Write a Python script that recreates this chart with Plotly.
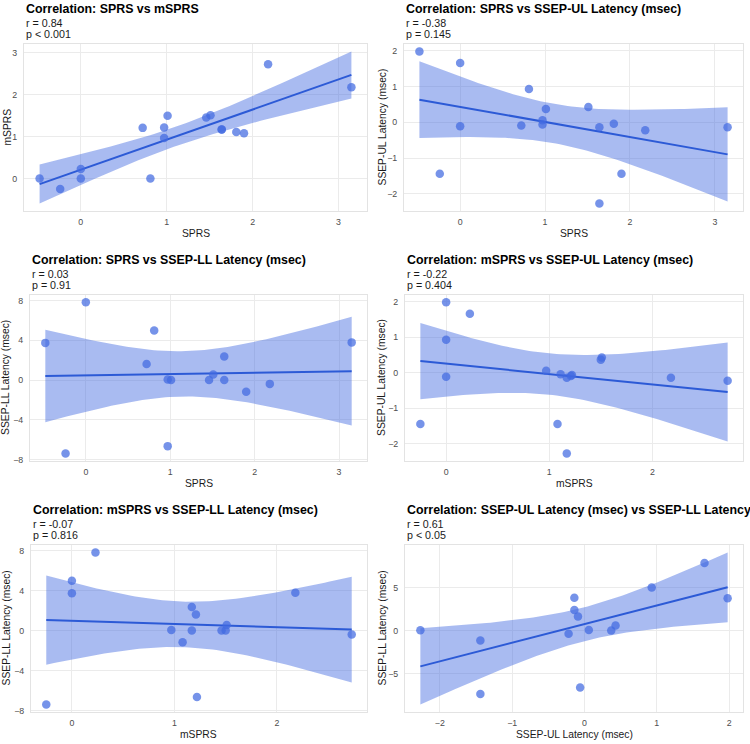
import math
import numpy as np
import plotly.graph_objects as go

# ---- data (one entry per patient; None = missing) ----
SPRS = [-0.48, -0.24, 0.0, 0.0, 0.72, 0.81, 0.97, 0.97, 1.01, 1.51, 1.46, 1.64, 1.64, 1.81, 1.90, 2.18, 3.15]
mSPRS = [0.0, -0.25, 0.23, 0.0, 1.21, 0.0, 0.97, 1.22, 1.50, 1.51, 1.46, 1.17, 1.17, 1.11, 1.08, 2.73, 2.18]
UL = [1.98, -1.44, 1.66, -0.11, -0.09, 0.93, 0.06, -0.06, 0.37, 0.43, None, -0.14, -2.27, -0.04, -1.44, -0.22, -0.14]
LL = [3.75, -7.40, 7.83, None, 1.62, 5.00, 0.05, -6.65, 0.00, 0.57, 0.00, 2.37, 0.02, None, -1.17, -0.38, 3.80]

VARS = {"SPRS": SPRS, "mSPRS": mSPRS, "UL": UL, "LL": LL}
LABELS = {"SPRS": "SPRS", "mSPRS": "mSPRS", "UL": "SSEP-UL Latency (msec)", "LL": "SSEP-LL Latency (msec)"}

pairs = [("SPRS", "mSPRS"), ("SPRS", "UL"), ("SPRS", "LL"), ("mSPRS", "UL"), ("mSPRS", "LL"), ("UL", "LL")]
r_labels = ["r = 0.84", "r = -0.38", "r = 0.03", "r = -0.22", "r = -0.07", "r = 0.61"]
p_labels = ["p < 0.001", "p = 0.145", "p = 0.91", "p = 0.404", "p = 0.816", "p < 0.05"]
y_dticks = [1, 1, 4, 1, 4, 5]

# ---- layout geometry (pixels) ----
W, H = 750, 744
panel_left = [24, 404, 30, 405, 31, 405]
panel_right = [367, 743, 367, 743, 367, 743]
panel_top = [44, 44, 296, 296, 547, 547]
panel_bot = [212, 212, 463, 463, 715, 715]
ytitle_x = [7, 382, 6, 382, 6, 382]

PT_COLOR = "rgba(65,105,225,0.72)"
BAND_COLOR = "rgba(65,105,225,0.45)"
LINE_COLOR = "#2c5ad6"
FONT = "Liberation Sans, Arial, sans-serif"


def t_quantile(p, df):
    c = math.exp(math.lgamma((df + 1) / 2) - math.lgamma(df / 2)) / math.sqrt(df * math.pi)

    def cdf(t):
        xs = np.linspace(0, t, 4001)
        ys = c * (1 + xs ** 2 / df) ** (-(df + 1) / 2)
        return 0.5 + np.trapezoid(ys, xs)

    lo, hi = 0.0, 20.0
    for _ in range(80):
        mid = (lo + hi) / 2
        if cdf(mid) < p:
            lo = mid
        else:
            hi = mid
    return (lo + hi) / 2


def px_x(v):
    return v / W


def px_y(v):
    return 1 - v / H


fig = go.Figure()
annotations = []

for i, (xk, yk) in enumerate(pairs):
    xa = np.array([np.nan if v is None else v for v in VARS[xk]], dtype=float)
    ya = np.array([np.nan if v is None else v for v in VARS[yk]], dtype=float)
    m = ~np.isnan(xa) & ~np.isnan(ya)
    x, y = xa[m], ya[m]
    n = len(x)
    b, a = np.polyfit(x, y, 1)
    xg = np.linspace(x.min(), x.max(), 80)
    fit = a + b * xg
    resid = y - (a + b * x)
    s = math.sqrt(np.sum(resid ** 2) / (n - 2))
    sxx = np.sum((x - x.mean()) ** 2)
    se = s * np.sqrt(1 / n + (xg - x.mean()) ** 2 / sxx)
    tq = t_quantile(0.975, n - 2)
    lo, hi = fit - tq * se, fit + tq * se

    ax = "" if i == 0 else str(i + 1)
    xref, yref = "x" + ax, "y" + ax

    fig.add_trace(go.Scatter(x=np.concatenate([xg, xg[::-1]]), y=np.concatenate([hi, lo[::-1]]),
                             fill="toself", fillcolor=BAND_COLOR, line=dict(width=0),
                             mode="lines", hoverinfo="skip", showlegend=False, xaxis=xref, yaxis=yref))
    fig.add_trace(go.Scatter(x=xg, y=fit, mode="lines", line=dict(color=LINE_COLOR, width=2),
                             showlegend=False, xaxis=xref, yaxis=yref))
    fig.add_trace(go.Scatter(x=x, y=y, mode="markers", marker=dict(color=PT_COLOR, size=8.5, line=dict(width=0)),
                             showlegend=False, xaxis=xref, yaxis=yref))

    xspan = x.max() - x.min()
    ymin = min(y.min(), lo.min())
    ymax = max(y.max(), hi.max())
    yspan = ymax - ymin
    axis_common = dict(showgrid=True, gridcolor="#ebebeb", gridwidth=1, zeroline=False,
                       showline=True, mirror=True, linecolor="#e3e3e3", linewidth=1,
                       ticks="", tickfont=dict(family=FONT, size=8.8, color="#4d4d4d"))
    fig.layout["xaxis" + ax] = dict(axis_common,
                                    domain=[px_x(panel_left[i]), px_x(panel_right[i])],
                                    range=[x.min() - 0.05 * xspan, x.max() + 0.05 * xspan],
                                    dtick=1, tick0=0, anchor=yref, ticklabelstandoff=2)
    fig.layout["yaxis" + ax] = dict(axis_common,
                                    domain=[px_y(panel_bot[i]), px_y(panel_top[i])],
                                    range=[ymin - 0.05 * yspan, ymax + 0.05 * yspan],
                                    dtick=y_dticks[i], tick0=0, anchor=xref, ticklabelstandoff=4)

    L, R, T, B = panel_left[i], panel_right[i], panel_top[i], panel_bot[i]
    title = "Correlation: %s vs %s" % (LABELS[xk], LABELS[yk])
    annotations.append(dict(text="<b>%s</b>" % title, x=px_x(L), y=px_y(T - 35), xref="paper", yref="paper",
                            xanchor="left", yanchor="middle", showarrow=False,
                            font=dict(family=FONT, size=12.4, color="#000")))
    annotations.append(dict(text=r_labels[i], x=px_x(L), y=px_y(T - 20.5), xref="paper", yref="paper",
                            xanchor="left", yanchor="middle", showarrow=False,
                            font=dict(family=FONT, size=10.7, color="#1a1a1a")))
    annotations.append(dict(text=p_labels[i], x=px_x(L), y=px_y(T - 9.5), xref="paper", yref="paper",
                            xanchor="left", yanchor="middle", showarrow=False,
                            font=dict(family=FONT, size=10.7, color="#1a1a1a")))
    annotations.append(dict(text=LABELS[xk], x=px_x((L + R) / 2), y=px_y(B + 22.5), xref="paper", yref="paper",
                            xanchor="center", yanchor="middle", showarrow=False,
                            font=dict(family=FONT, size=10.3, color="#1a1a1a")))
    annotations.append(dict(text=LABELS[yk], x=px_x(ytitle_x[i]), y=px_y((T + B) / 2), xref="paper", yref="paper",
                            xanchor="center", yanchor="middle", textangle=-90, showarrow=False,
                            font=dict(family=FONT, size=10.3, color="#1a1a1a")))

fig.update_layout(width=W, height=H, margin=dict(l=0, r=0, t=0, b=0), paper_bgcolor="white",
                  plot_bgcolor="white", annotations=annotations, font=dict(family=FONT))

fig.write_html("out.html")
